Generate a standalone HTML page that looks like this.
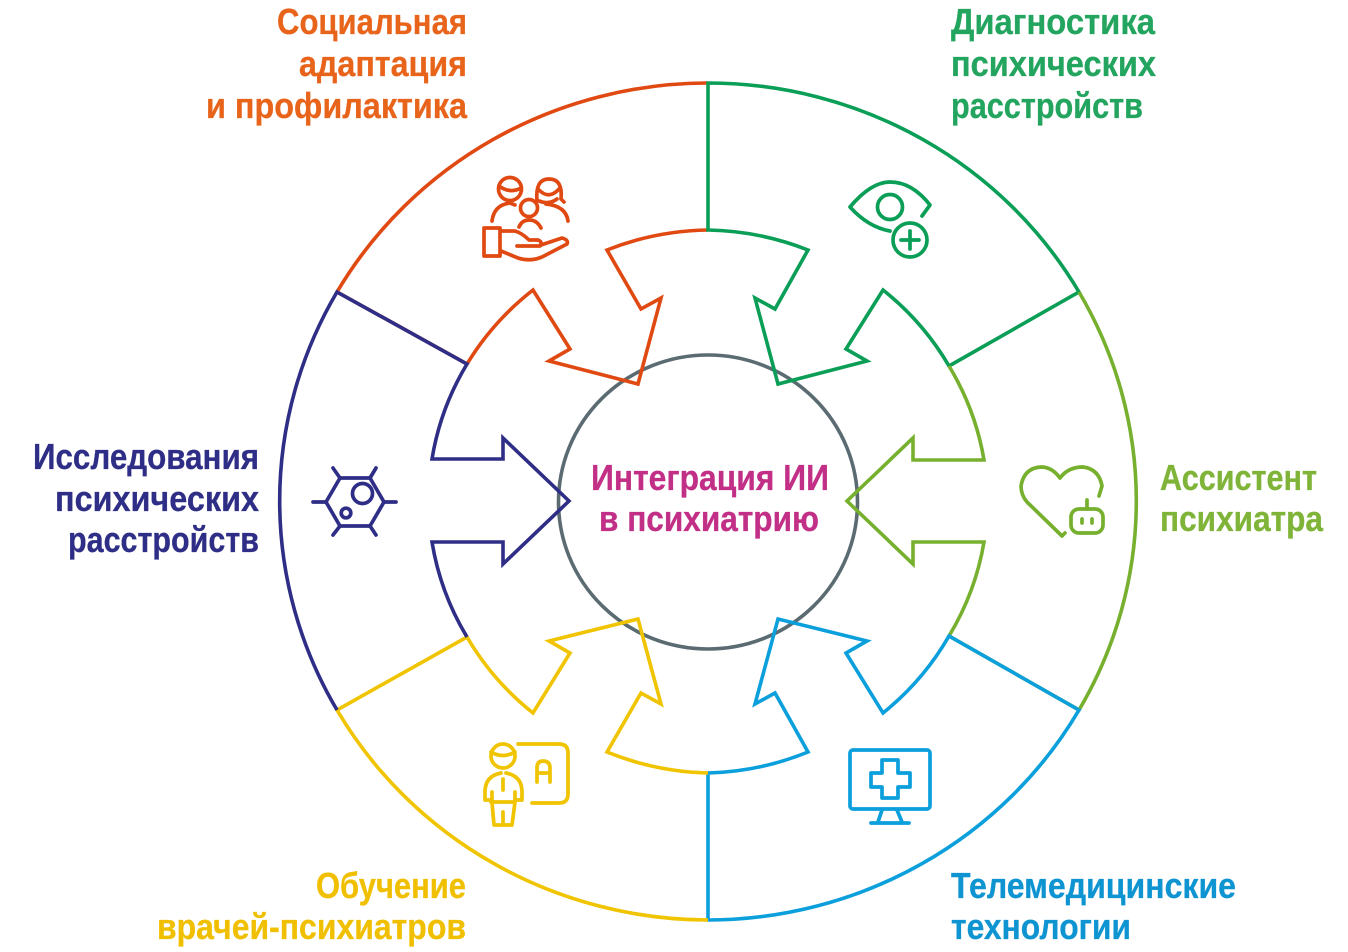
<!DOCTYPE html>
<html><head><meta charset="utf-8"><style>
html,body{margin:0;padding:0;background:#fff;width:1348px;height:952px;overflow:hidden}
svg{display:block}
text{font-family:"Liberation Sans","Noto Sans CJK SC",sans-serif;font-weight:bold;font-size:36px;stroke-width:.3}
.l{fill:none;stroke-width:3.6;stroke-linejoin:miter;stroke-linecap:butt}
.i{fill:none;stroke-width:3.7;stroke-linecap:round;stroke-linejoin:round}
</style></head><body>
<svg width="1348" height="952" viewBox="0 0 1348 952" xmlns="http://www.w3.org/2000/svg">
<ellipse cx="708" cy="502" rx="149.500" ry="147" fill="none" stroke="#5b6b72" stroke-width="3.6"/>

<path class="l" stroke="#e04a12" d="M708 83A429 418.500 0 0 0 337 292L467 364A279 271.500 0 0 1 533 290L570 349L549 361L638 384L661 298L641 309L607 250A279 271.500 0 0 1 708 230"/>
<path class="l" stroke="#0b9e57" d="M708 83A429 418.500 0 0 1 1079 292L949 366A279 271.500 0 0 0 883 290L846 349L867 361L778 384L755 298L775 309L808 250A279 271.500 0 0 0 708 230Z"/>
<path class="l" stroke="#76b02e" d="M1079 292A429 418.500 0 0 1 1079 710L949 636A279 271.500 0 0 0 984 542L913 542L913 564L847 501L913 438L913 460L984 460A279 271.500 0 0 0 949 366"/>
<path class="l" stroke="#0b9fdc" d="M1079 710A429 418.500 0 0 1 708 920L708 773A279 271.500 0 0 0 808 752L775 693L755 704L778 619L867 641L846 653L883 713A279 271.500 0 0 0 949 636Z"/>
<path class="l" stroke="#f0c400" d="M708 920A429 418.500 0 0 1 337 710L467 637A279 271.500 0 0 0 533 713L570 653L549 641L638 619L661 704L641 693L607 752A279 271.500 0 0 0 708 773"/>
<path class="l" stroke="#2f2e86" d="M337 710A429 418.500 0 0 1 337 292L467 364A279 271.500 0 0 0 432 459L503 459L503 438L569 501L503 564L503 542L432 542A279 271.500 0 0 0 467 637"/>

<!-- orange icon -->
<g class="i" stroke="#e04a12">
<circle cx="510" cy="189" r="11.500"/><path d="M499 186Q510 194 521 188"/>
<path d="M492 221Q494 205 510 203L515 205"/>
<path d="M537 201Q535 179 549 179Q563 179 561 199L564 202"/><path d="M539 190Q549 200 559 189"/><path d="M539 201Q549 205 557 199"/>
<path d="M546 204Q566 206 568 221"/>
<circle cx="529" cy="208" r="8.500"/><path d="M519 227Q522 220 529 220Q537 220 541 228"/>
<rect x="484" y="228" width="16" height="28"/>
<path d="M501 231L515 231Q522 233 529 240L538 240Q543 242 540 246L517 246"/>
<path d="M541 245L562 238Q569 240 567 244L542 257Q530 262 518 258L501 251"/>
</g>
<!-- eye icon -->
<g class="i" stroke="#0b9e57">
<path d="M890 231Q868 227 850 207Q871 182 890 182Q912 182 930 205L922 216"/>
<circle cx="890" cy="207" r="12.500"/>
<circle cx="910" cy="240" r="17"/>
<path d="M901 240H919M910 231V249"/>
</g>
<!-- heart icon -->
<g class="i" stroke="#76b02e">
<path d="M1065 533L1062 536L1027 502Q1021 495 1021 486Q1024 468 1041 467Q1052 467 1060 478Q1068 467 1083 467Q1099 469 1102 486L1099 496"/>
<rect x="1071" y="509" width="32" height="24" rx="8"/>
<path d="M1087 500V509"/>
<path d="M1082 519V523M1092 519V523"/>
</g>
<!-- monitor icon -->
<g class="i" stroke="#0b9fdc">
<rect x="850" y="750" width="80" height="59" rx="3"/>
<path d="M882 760H898V773H910V787H898V798H882V787H871V773H882Z"/>
<path d="M882 810L878 822M897 810L902 822M871 823H909"/>
</g>
<!-- teacher icon -->
<g class="i" stroke="#f0c400">
<circle cx="503" cy="756" r="12"/><path d="M491 752Q503 759 515 752"/>
<path d="M518 744H559Q568 744 568 753V794Q568 803 559 803H532"/>
<path d="M537 782V768Q537 761 543 761Q550 761 550 768V782M537 773H550"/>
<path d="M501 773Q485 776 485 792V800H492V792M506 773Q522 776 522 792V800H515V792"/>
<path d="M492 802L494 825H512L515 802M491 802H515M503 812V825M503 779V790"/>
</g>
<!-- cell icon -->
<g class="i" stroke="#2f2e86">
<path d="M340 478H370L384 502L370 526H340L326 502Z"/>
<path d="M326 502H313M384 502H396M340 478L333 468M370 478L376 468M340 526L333 535M370 526L376 535"/>
<circle cx="362.500" cy="493.500" r="10"/>
<circle cx="346" cy="513" r="4.800"/>
</g>

<g fill="#e8641b" stroke="#e8641b" text-anchor="end">
<text x="467" y="34" textLength="190" lengthAdjust="spacingAndGlyphs">Социальная</text>
<text x="467" y="76" textLength="168" lengthAdjust="spacingAndGlyphs">адаптация</text>
<text x="467" y="118" textLength="261" lengthAdjust="spacingAndGlyphs">и профилактика</text>
</g>
<g fill="#23a55f" stroke="#23a55f">
<text x="951" y="34" textLength="204" lengthAdjust="spacingAndGlyphs">Диагностика</text>
<text x="951" y="76" textLength="205" lengthAdjust="spacingAndGlyphs">психических</text>
<text x="951" y="118" textLength="192" lengthAdjust="spacingAndGlyphs">расстройств</text>
</g>
<g fill="#7fb439" stroke="#7fb439">
<text x="1160" y="490" textLength="157" lengthAdjust="spacingAndGlyphs">Ассистент</text>
<text x="1160" y="531" textLength="163" lengthAdjust="spacingAndGlyphs">психиатра</text>
</g>
<g fill="#2f2e86" stroke="#2f2e86" text-anchor="end">
<text x="259" y="469" textLength="226" lengthAdjust="spacingAndGlyphs">Исследования</text>
<text x="259" y="511" textLength="204" lengthAdjust="spacingAndGlyphs">психических</text>
<text x="259" y="552" textLength="191" lengthAdjust="spacingAndGlyphs">расстройств</text>
</g>
<g fill="#f0c000" stroke="#f0c000" text-anchor="end">
<text x="466" y="898" textLength="150" lengthAdjust="spacingAndGlyphs">Обучение</text>
<text x="466" y="939" textLength="309" lengthAdjust="spacingAndGlyphs">врачей-психиатров</text>
</g>
<g fill="#0f94d2" stroke="#0f94d2">
<text x="951" y="898" textLength="285" lengthAdjust="spacingAndGlyphs">Телемедицинские</text>
<text x="951" y="939" textLength="180" lengthAdjust="spacingAndGlyphs">технологии</text>
</g>
<g fill="#c22f86" stroke="#c22f86">
<text x="591" y="490" textLength="238" lengthAdjust="spacingAndGlyphs">Интеграция ИИ</text>
<text x="599" y="531" textLength="220" lengthAdjust="spacingAndGlyphs">в психиатрию</text>
</g>
</svg>
</body></html>
